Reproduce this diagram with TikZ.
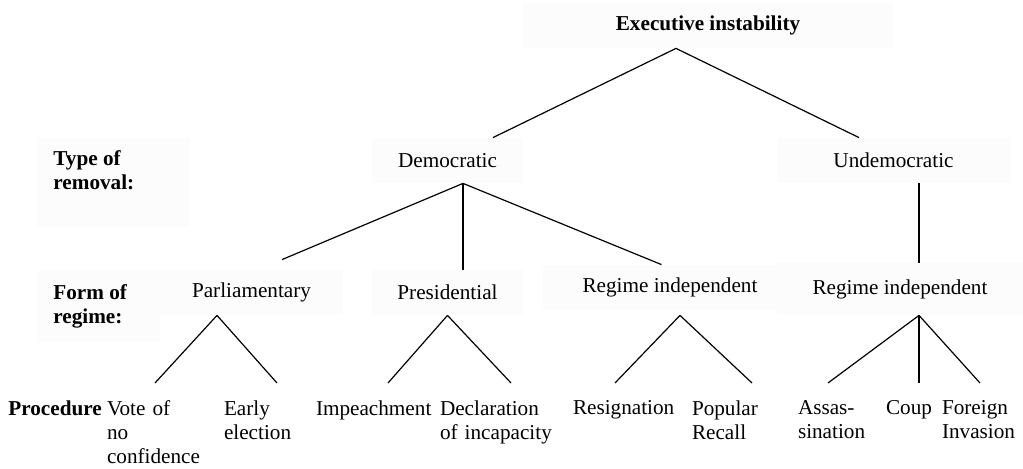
\documentclass[tikz,border=0pt]{standalone}
\usepackage{fontspec}
\setmainfont{Liberation Serif}
\usetikzlibrary{positioning}
\definecolor{boxgray}{RGB}{252,252,252}

\begin{document}
\begin{tikzpicture}[x=0.5pt,y=-0.5pt,
		every node/.style={font=\fontsize{10.6}{12}\selectfont},
		catbox/.style={fill=boxgray,inner sep=0pt,minimum height=22.5pt},
		rowbox/.style={fill=boxgray,inner sep=0pt,anchor=north west},
		rowlab/.style={font=\fontsize{10.6}{12}\selectfont\bfseries,align=left,inner sep=0pt,anchor=north west},
		leaf/.style={align=left,anchor=north,inner xsep=0pt,inner ysep=8.5pt},
		branch/.style={line width=0.6pt}]
		\useasboundingbox (0,0) rectangle (1023,469);
		
		\node[rowbox,minimum width=76pt,minimum height=44.5pt] (typebox) at (38,138) {};
		\node[rowlab] (typelab) at (53,150) {Type of\\removal:};
		\node[rowbox,minimum width=61pt,minimum height=36pt] (formbox) at (38,270) {};
		\node[rowlab] (formlab) at (53,284) {Form of\\regime:};
		\node[rowlab] (proclab) at (8,400) {Procedure};
		
		\node[catbox,minimum width=185pt,font=\fontsize{10.6}{12}\selectfont\bfseries] (exec) at (708,25.5) {Executive instability};
		\node[catbox,minimum width=75.5pt] (dem) at (447.5,160.5) {Democratic};
		\node[catbox,minimum width=116.5pt] (undem) at (893.5,160.5) {Undemocratic};
		\node[catbox,minimum width=91.5pt] (parl) at (251.5,292.5) {Parliamentary};
		\node[catbox,minimum width=75.5pt] (pres) at (447.5,292.5) {Presidential};
		\node[catbox,minimum width=117pt] (indep) at (660,287.5) {\hspace*{10pt}Regime independent};
		\node[catbox,minimum width=123pt,minimum height=26pt] (indepu) at (900,289) {Regime independent};
		
		\node[leaf,text width=48pt] (vote) at (155,383) {Vote of\\no\\confidence};
		\node[leaf,text width=53pt] (early) at (277,383) {Early\\election};
		\node[leaf,text width=72pt] (impeach) at (388,383) {Impeachment};
		\node[leaf,text width=71pt] (declar) at (511,383) {Declaration\\of incapacity};
		\node[leaf,text width=42pt] (resign) at (615,383) {Resignation};
		\node[leaf,text width=60pt] (recall) at (752,383) {Popular\\Recall};
		\node[leaf,text width=30pt] (assas) at (828,383) {Assas-\\sination};
		\node[leaf,text width=33pt] (coup) at (919,383) {Coup};
		\node[leaf,text width=38pt] (invasion) at (980,383) {Foreign\\Invasion};
		
		\draw[branch] ([xshift=-16pt]exec.south) -- ([xshift=22.75pt]dem.north);
		\draw[branch] ([xshift=-16pt]exec.south) -- ([xshift=-17.25pt]undem.north);
		\draw[branch] ([xshift=7.75pt]dem.south) -- ([xshift=15.25pt,yshift=5pt]parl.north);
		\draw[branch] ([xshift=7.75pt]dem.south) -- ([xshift=7.75pt]pres.north);
		\draw[branch] ([xshift=7.75pt]dem.south) -- ([xshift=0.75pt]indep.north);
		\draw[branch] ([xshift=12.75pt]undem.south) -- ([xshift=9.5pt]indepu.north);
		\foreach \child in {vote,early}
			\draw[branch] ([xshift=-17.25pt]parl.south) -- (\child.north);
		\foreach \child in {impeach,declar}
			\draw[branch] (pres.south) -- (\child.north);
		\foreach \child in {resign,recall}
			\draw[branch] ([xshift=10pt,yshift=-2.5pt]indep.south) -- (\child.north);
		\foreach \child in {assas,coup,invasion}
			\draw[branch] ([xshift=9.5pt]indepu.south) -- (\child.north);
		
\end{tikzpicture}
\end{document}
